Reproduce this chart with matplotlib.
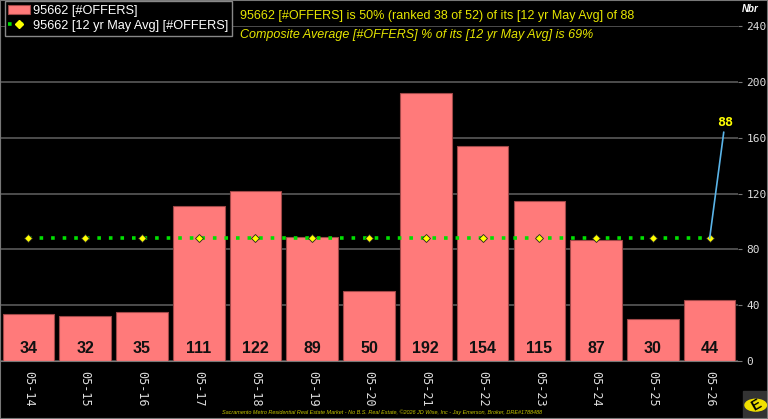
import matplotlib.pyplot as plt
from matplotlib.patches import Circle, Rectangle

labels = ["05-14", "05-15", "05-16", "05-17", "05-18", "05-19", "05-20",
          "05-21", "05-22", "05-23", "05-24", "05-25", "05-26"]
offers = [34, 32, 35, 111, 122, 89, 50, 192, 154, 115, 87, 30, 44]
avg = [88] * 13
yticks = [0, 40, 80, 120, 160, 200, 240]

title1 = "95662 [#OFFERS] is 50% (ranked 38 of 52) of its [12 yr May Avg] of 88"
title2 = "Composite Average [#OFFERS] % of its [12 yr May Avg] is 69%"
footer = ("Sacramento Metro Residential Real Estate Market - No B.S. Real Estate, "
          "\u00a92026 JD Wise, Inc - Jay Emerson, Broker, DRE#1788488")

plt.rcParams['font.family'] = ['Liberation Sans', 'DejaVu Sans']

fig = plt.figure(figsize=(7.68, 4.19), dpi=100, facecolor="black")
ax = fig.add_axes([0.0, 0.138, 0.961, 0.800])
ax.set_facecolor("black")

x = list(range(len(labels)))
ax.bar(x, offers, width=0.91, color="#ff7a7a", edgecolor="#a04848",
       linewidth=0.8, zorder=2, label="95662 [#OFFERS]")
for xi, v in zip(x, offers):
    ax.text(xi, 4, str(v), ha="center", va="bottom", fontsize=11.5,
            fontweight="bold", color="#111111", zorder=3)

ax.plot(x, avg, linestyle=(0, (1, 2.2)), color="#00e000", linewidth=2.6,
        zorder=4)
ax.plot(x, avg, linestyle="none", marker="D", markersize=4.5,
        markerfacecolor="#ffff00", markeredgecolor="#222222",
        markeredgewidth=0.6, zorder=5)
# proxy for legend
ax.plot([], [], linestyle=(0, (1, 2.2)), color="#00e000", linewidth=2.6,
        marker="D", markersize=4, markerfacecolor="#ffff00",
        markeredgecolor="#ffff00", label="95662 [12 yr May Avg] [#OFFERS]")

ax.annotate(str(avg[-1]), xy=(x[-1], avg[-1]), xytext=(x[-1] + 0.27, 166),
            color="#ffff00", fontsize=9.5, fontweight="bold",
            ha="center", va="bottom", family="DejaVu Sans Mono",
            arrowprops=dict(arrowstyle="-", color="#5ab4e8", lw=1.2,
                            shrinkA=0, shrinkB=0), zorder=6)

ax.set_xlim(-0.5, 12.5)
ax.set_ylim(0, 240)
ax.set_yticks(yticks)
ax.yaxis.tick_right()
ax.grid(axis="y", color="#5a5a5a", linewidth=1.2, zorder=0)
ax.set_axisbelow(True)
ax.tick_params(axis="y", colors="#777777", labelsize=8, length=3,
               labelcolor="#dddddd", pad=3)
ax.set_xticks(x)
ax.set_xticklabels(labels, rotation=270, family="DejaVu Sans Mono",
                   fontsize=8.5, color="#dddddd")
ax.tick_params(axis="x", length=0, pad=7)
for lab in ax.get_yticklabels():
    lab.set_family("DejaVu Sans Mono")
for side in ["top", "right"]:
    ax.spines[side].set_visible(False)
ax.spines["left"].set_color("#777777")
ax.spines["bottom"].set_color("#777777")

handles, names = ax.get_legend_handles_labels()
order = [names.index("95662 [#OFFERS]"),
         names.index("95662 [12 yr May Avg] [#OFFERS]")]
leg = fig.legend([handles[i] for i in order], [names[i] for i in order],
                 loc="upper left", bbox_to_anchor=(0.006, 0.998),
                 fontsize=9.2, facecolor="black", edgecolor="#888888",
                 labelcolor="white", framealpha=1, fancybox=False,
                 borderpad=0.3, handlelength=1.7, handletextpad=0.25,
                 labelspacing=0.25, borderaxespad=0)
leg.get_frame().set_linewidth(1.0)

fig.text(0.313, 0.963, title1, color="#e6e600", fontsize=9,
         va="center", ha="left")
fig.text(0.313, 0.916, title2, color="#e6e600", fontsize=9,
         style="italic", va="center", ha="left")
fig.text(0.977, 0.978, "Nbr", color="white", fontsize=7, fontweight="bold",
         style="italic", va="center", ha="center")
fig.text(0.498, 0.017, footer, color="#c8c800", fontsize=4, style="italic",
         ha="center", va="center")

# logo in the bottom-right corner
fig.patches.append(Rectangle((0.967, 0.0), 0.033, 0.066, color="#333333",
                             transform=fig.transFigure, zorder=1))
fig.patches.append(Circle((0.984, 0.033), 0.014, color="#f0e000",
                          transform=fig.transFigure, zorder=2))
fig.text(0.984, 0.033, "E", color="black", fontsize=10, fontweight="bold",
         rotation=30, ha="center", va="center", zorder=3)

fig.patches.append(Rectangle((0, 0), 1, 1, fill=False, edgecolor="#777777",
                             linewidth=1.5, transform=fig.transFigure))

fig.savefig("out.png", dpi=100, facecolor="black")
